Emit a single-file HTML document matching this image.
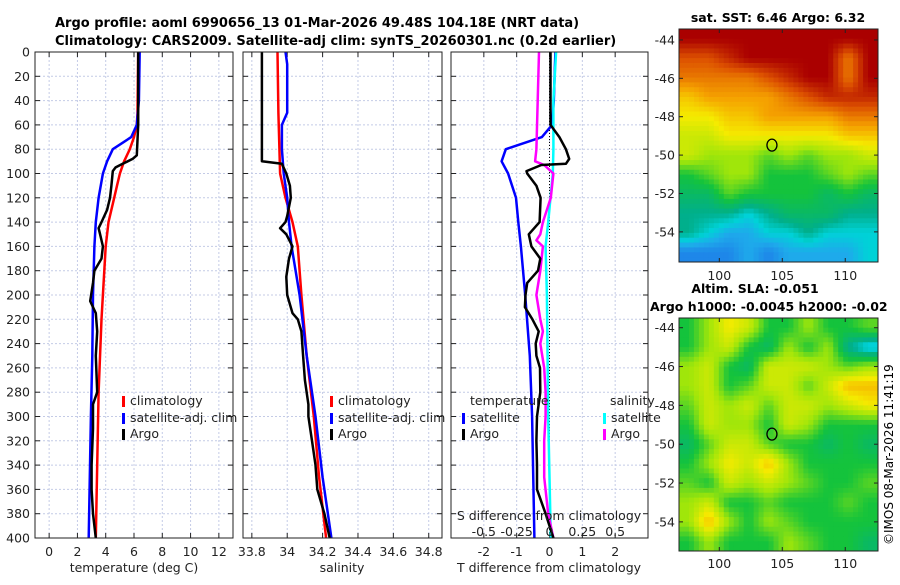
<!DOCTYPE html>
<html><head><meta charset="utf-8">
<style>
body{margin:0;background:#fff;}
svg{font-family:"DejaVu Sans","Liberation Sans",sans-serif;}
</style></head>
<body>
<svg id="fig" width="900" height="580" viewBox="0 0 900 580" xmlns="http://www.w3.org/2000/svg">
<rect width="900" height="580" fill="#fff"/>
<text x="55" y="27" font-size="13" font-weight="bold">Argo profile: aoml 6990656_13 01-Mar-2026 49.48S 104.18E (NRT data)</text>
<text x="55" y="45" font-size="13" font-weight="bold">Climatology: CARS2009. Satellite-adj clim: synTS_20260301.nc (0.2d earlier)</text>
<text x="778" y="22" font-size="12.5" font-weight="bold" text-anchor="middle">sat. SST: 6.46 Argo: 6.32</text>
<text x="755" y="293" font-size="12.5" font-weight="bold" text-anchor="middle">Altim. SLA: -0.051</text>
<text x="650" y="311" font-size="12.5" font-weight="bold">Argo h1000: -0.0045 h2000: -0.02</text>
<g id="plots"></g>
<text transform="translate(893,545) rotate(-90)" font-size="12">©IMOS 08-Mar-2026 11:41:19</text>
</svg>
<script>
// ---- data ----
const depths = [0,20,40,50,60,70,80,85,88,90,92,95,98,100,110,120,130,135,140,145,150,155,160,170,180,185,190,200,205,210,215,220,230,240,250,260,270,280,290,300,310,320,340,350,360,380,400];
const tClimDepth = [0,50,60,70,80,90,100,110,120,140,160,180,220,280,340,400];
const tClim = [6.3,6.25,6.2,6.0,5.7,5.3,5.0,4.8,4.6,4.2,4.0,3.9,3.7,3.5,3.4,3.3];
const tSatDepth = [0,40,60,70,80,90,100,120,140,160,200,250,300,400];
const tSat = [6.4,6.35,6.2,5.8,4.5,4.1,3.8,3.5,3.3,3.2,3.1,3.05,2.95,2.8];
const tArgoDepth = [0,60,85,88,92,95,98,110,120,130,140,145,150,160,170,180,190,205,215,230,250,280,290,310,340,360,380,400];
const tArgo = [6.3,6.3,6.2,5.9,5.2,4.7,4.5,4.4,4.3,4.1,3.7,3.5,3.6,3.8,3.7,3.2,3.1,2.9,3.3,3.4,3.3,3.4,3.1,3.1,3.0,3.0,3.1,3.3];
const sClimDepth = [0,50,100,120,140,160,200,250,300,350,400];
const sClim = [33.945,33.95,33.96,33.99,34.03,34.06,34.08,34.11,34.15,34.18,34.22];
const sSatDepth = [0,10,30,50,60,80,100,120,140,160,200,250,300,350,400];
const sSat = [33.99,34.0,34.0,34.0,33.97,33.97,33.98,34.0,34.01,34.025,34.07,34.11,34.16,34.2,34.25];
const sArgoDepth = [0,90,92,100,110,120,135,140,145,150,160,170,185,200,215,220,230,250,270,290,300,320,340,360,380,400];
const sArgo = [33.857,33.857,33.97,33.995,34.015,34.02,34.0,33.99,33.96,33.995,34.03,34.01,33.995,34.0,34.03,34.06,34.08,34.09,34.1,34.12,34.12,34.14,34.16,34.17,34.21,34.24];
const dTSatDepth = [0,40,60,70,80,90,100,120,140,160,200,250,300,400];
const dTSat = [0.18,0.13,0.08,-0.23,-1.33,-1.46,-1.26,-1.02,-0.95,-0.87,-0.74,-0.6,-0.53,-0.46];
const dTArgoDepth = [0,60,70,80,88,92,93,98,100,110,120,140,150,160,170,180,190,200,210,220,230,240,250,260,280,300,320,340,360,380,400];
const dTArgo = [0.03,0.03,0.3,0.5,0.6,0.5,-0.25,-0.7,-0.68,-0.4,-0.27,-0.3,-0.63,-0.55,-0.28,-0.35,-0.68,-0.73,-0.75,-0.52,-0.33,-0.42,-0.4,-0.29,-0.28,-0.38,-0.4,-0.38,-0.38,-0.12,0.12];
const dSArgoDepth = [0,80,90,93,100,120,140,150,155,160,180,200,220,230,240,260,280,300,320,350,380,400];
const dSArgo = [-0.08,-0.1,-0.11,-0.04,0.03,0.01,-0.05,-0.07,-0.1,-0.05,-0.07,-0.1,-0.07,-0.05,-0.07,-0.04,-0.03,-0.03,-0.04,-0.04,-0.01,0.03];
const dSSatDepth = [0,40,80,100,140,160,200,300,400];
const dSSat = [0.05,0.03,0.03,0.025,-0.01,-0.03,-0.02,-0.01,0.01];
const depthTicks = [0,20,40,60,80,100,120,140,160,180,200,220,240,260,280,300,320,340,360,380,400];
const tTicks = [0,2,4,6,8,10,12];
const sTicks = [33.8,34,34.2,34.4,34.6,34.8];
const sTickLabels = ["33.8","34","34.2","34.4","34.6","34.8"];
const dTTicks = [-2,-1,0,1,2];
const dSTicks = [-0.5,-0.25,0,0.25,0.5];
const dSTickLabels = ["-0.5","-0.25","0","0.25","0.5"];
const lonTicks = [100,105,110];
const sstLatTicks = [-44,-46,-48,-50,-52,-54];
const argoLon = 104.18, argoLat = -49.48;
// colour index 0..10, rows north->south
const sstGrid = [
[10,10,10,10,10,10,10,10,10,10],
[9,9,9.5,10,10,10,10,10,8.5,10],
[8.5,8.5,8.5,8.5,9,9.5,10,10,8.5,10],
[7.5,8,8,8,8,8.5,9,9.5,9.5,9.5],
[7,7,7.5,7.5,8,8,8,8,8.5,8.5],
[6.5,6.5,7,7,7,7,7,7,7.5,7.5],
[6.5,6,6,6,5.5,6,5.5,6,6,6.5],
[5,5.5,6,6,5,5,5,5.5,6,5.5],
[4.5,4.5,5.5,5,5,5,5,4.5,5,4.5],
[4,4,4,3.5,4,4.5,4.5,4.5,4,4],
[4,3.5,3,3,3.5,3.5,4,3.5,3.5,3.5],
[2.5,2.5,2.5,3,2.5,3,3,3,3,3.5]];
const slaGrid = [
[5,6,7,6.5,5,5,6,5,5,5.5],
[5,6,6.5,5,4.5,6,5,6,4,3.2],
[6,6.5,5,4.5,6.5,6.5,6.5,6,5.5,6],
[6,6.5,5,5.5,6.5,6.5,5.5,6.5,7.6,7.6],
[5.5,6.5,6,6.5,5.5,6.5,6.5,6,6.5,7],
[5,6.5,6,6,5,6.5,6,5,5,5],
[4.5,5.5,6.5,6.5,5.5,5,5,4.5,5,4.5],
[5,6,7,6.5,7.5,6,5,5,5,5],
[5.5,5,6.5,6,6.5,6,5.5,5,5,5.5],
[6,6.5,5,5,5.5,5,5,5,5.5,5],
[6,7.6,6,5,6,5.5,5,5,5,5],
[5,6,5,5,5,6,5.5,5,5,4.5]];

// ---- drawing ----
const NS="http://www.w3.org/2000/svg";
const root=document.getElementById('plots');
function el(tag,attrs,parent){const e=document.createElementNS(NS,tag);for(const k in attrs)e.setAttribute(k,attrs[k]);(parent||root).appendChild(e);return e;}
const Y0=52,Y1=538;
const yD=d=>Y0+(Y1-Y0)*d/400;
function lin(d0,d1,r0,r1){return v=>r0+(v-d0)*(r1-r0)/(d1-d0);}
const xT=lin(-1,13,35,233), xS=lin(33.75,34.875,243,442), xDT=lin(-3,3,451,648), xDS=lin(-0.75,0.75,451,648);

function panel(name,x0,x1,xticks,xf,xlabels,yLabels){
  const g=el('g',{});
  
  
  xticks.forEach(t=>{const l=el('line',{x1:xf(t),x2:xf(t),y1:Y0,y2:Y1,stroke:'#c4cbe6','stroke-dasharray':'2,2','stroke-width':1},g);});
  depthTicks.forEach(d=>{const l=el('line',{x1:x0,x2:x1,y1:yD(d),y2:yD(d),stroke:'#c4cbe6','stroke-dasharray':'2,2','stroke-width':1},g);
    el('line',{x1:x0,x2:x0+5,y1:yD(d),y2:yD(d),stroke:'#222'},g);el('line',{x1:x1-5,x2:x1,y1:yD(d),y2:yD(d),stroke:'#222'},g);
    if(yLabels){const t=el('text',{x:x0-5,y:yD(d)+4.5,'font-size':12.5,'text-anchor':'end',fill:'#222'},g);t.textContent=d;}
  });
  xticks.forEach((t,i)=>{el('line',{x1:xf(t),x2:xf(t),y1:Y1,y2:Y1-5,stroke:'#222'},g);el('line',{x1:xf(t),x2:xf(t),y1:Y0,y2:Y0+5,stroke:'#222'},g);
    if(xlabels){const tx=el('text',{x:xf(t),y:556,'font-size':12.5,'text-anchor':'middle',fill:'#222'},g);tx.textContent=xlabels[i];}
  });
  return g;
}
function line(g,name,xs,ds,xf,color,w,dash){
  const p=xs.map((v,i)=>xf(v).toFixed(1)+','+yD(ds[i]).toFixed(1)).join(' ');
  const l=el('polyline',{points:p,fill:'none',stroke:color,'stroke-width':w,'stroke-linejoin':'round'},g);
  if(dash)l.setAttribute('stroke-dasharray',dash);
  
  
}
function frame(g,x0,x1){const r=el('rect',{x:x0,y:Y0,width:x1-x0,height:Y1-Y0,fill:'none',stroke:'#222','stroke-width':1},g);}
function txt(g,name,x,y,s,size,anchor){const t=el('text',{x:x,y:y,'font-size':size||12.5,'text-anchor':anchor||'start',fill:'#222'},g);t.textContent=s;return t;}
function legendItem(g,name,x,y,color,label){const r=el('rect',{x:x,y:y-9,width:3,height:11,fill:color},g);txt(g,name,x+8,y,label,12.5);}

let g=panel('temperature-panel',35,233,tTicks,xT,tTicks.map(String),true);
line(g,'temp-climatology-line',tClim,tClimDepth,xT,'#f00',2.5);
line(g,'temp-satellite-line',tSat,tSatDepth,xT,'#00f',2.5);
line(g,'temp-argo-line',tArgo,tArgoDepth,xT,'#000',2.5);
frame(g,35,233);
txt(g,'temp-x-axis-title',134,572,'temperature (deg C)',12.5,'middle');
legendItem(g,'legend-climatology',122,405,'#f00','climatology');
legendItem(g,'legend-satellite',122,422,'#00f','satellite-adj. clim');
legendItem(g,'legend-argo',122,438,'#000','Argo');

g=panel('salinity-panel',243,442,sTicks,xS,sTickLabels,false);
line(g,'sal-climatology-line',sClim,sClimDepth,xS,'#f00',2.5);
line(g,'sal-satellite-line',sSat,sSatDepth,xS,'#00f',2.5);
line(g,'sal-argo-line',sArgo,sArgoDepth,xS,'#000',2.5);
frame(g,243,442);
txt(g,'salinity-x-axis-title',342,572,'salinity',12.5,'middle');
legendItem(g,'legend-climatology-s',330,405,'#f00','climatology');
legendItem(g,'legend-satellite-s',330,422,'#00f','satellite-adj. clim');
legendItem(g,'legend-argo-s',330,438,'#000','Argo');

g=panel('difference-panel',451,648,dTTicks,xDT,dTTicks.map(String),false);
el('line',{x1:xDT(0),x2:xDT(0),y1:Y0,y2:Y1,stroke:'#000','stroke-dasharray':'1,2','stroke-width':1},g);
line(g,'dT-satellite-line',dTSat,dTSatDepth,xDT,'#00f',2.5);
line(g,'dS-satellite-line',dSSat,dSSatDepth,xDS,'#0ff',2.5);
line(g,'dS-argo-line',dSArgo,dSArgoDepth,xDS,'#f0f',2.5);
line(g,'dT-argo-line',dTArgo,dTArgoDepth,xDT,'#000',2.5);
frame(g,451,648);
txt(g,'dT-x-axis-title',549,572,'T difference from climatology',12.5,'middle');
txt(g,'dS-axis-title',549,520,'S difference from climatology',12.5,'middle');
dSTicks.forEach((t,i)=>txt(g,'dS-tick-label',xDS(t),536,dSTickLabels[i],12.5,'middle'));
txt(g,'legend-temperature-heading',470,405,'temperature');
legendItem(g,'legend-dT-satellite',462,422,'#00f','satellite');
legendItem(g,'legend-dT-argo',462,438,'#000','Argo');
txt(g,'legend-salinity-heading',610,405,'salinity');
legendItem(g,'legend-dS-satellite',603,422,'#0ff','satellite');
legendItem(g,'legend-dS-argo',603,438,'#f0f','Argo');

// colour palette (index -> rgb)
const palIdx=[0,2,3,3.5,4,5,6,7,8,9,10];
const palRGB=[[0,0,160],[30,100,230],[30,170,235],[0,210,215],[0,175,140],[20,195,60],[160,230,10],[245,235,0],[245,160,0],[220,80,0],[170,0,0]];
function cmap(v){v=Math.max(0,Math.min(10,v));let k=0;while(k<palIdx.length-2&&v>palIdx[k+1])k++;
  const f=(v-palIdx[k])/(palIdx[k+1]-palIdx[k]);const a=palRGB[k],b=palRGB[k+1];
  return 'rgb('+a.map((c,i)=>Math.round(c+(b[i]-c)*f)).join(',')+')';}
function sample(grid,fy,fx){const R=grid.length,C=grid[0].length;
  const y=Math.max(0,Math.min(R-1,fy*R-0.5)),x=Math.max(0,Math.min(C-1,fx*C-0.5));
  const i=Math.floor(y),j=Math.floor(x),i2=Math.min(R-1,i+1),j2=Math.min(C-1,j+1),dy=y-i,dx=x-j;
  return grid[i][j]*(1-dy)*(1-dx)+grid[i][j2]*(1-dy)*dx+grid[i2][j]*dy*(1-dx)+grid[i2][j2]*dy*dx;}
function map(name,grid,mx0,mx1,my0,my1,latTop,latBot,latTicks,lonLabelY){
  const g=el('g',{});
  
  
  const xl=lin(96.8,112.6,mx0,mx1), yl=lin(latTop,latBot,my0,my1);
  const NR=48,NC=40,cw=(mx1-mx0)/NC,ch=(my1-my0)/NR;
  for(let i=0;i<NR;i++)for(let j=0;j<NC;j++){
    const c=el('rect',{x:(mx0+j*cw).toFixed(2),y:(my0+i*ch).toFixed(2),width:(cw+0.5).toFixed(2),height:(ch+0.5).toFixed(2),fill:cmap(sample(grid,(i+0.5)/NR,(j+0.5)/NC))},g);
    
    
  }
  const f=el('rect',{x:mx0,y:my0,width:mx1-mx0,height:my1-my0,fill:'none',stroke:'#222'},g);
  latTicks.forEach(l=>{el('line',{x1:mx1,x2:mx1-4,y1:yl(l),y2:yl(l),stroke:'#222'},g);el('line',{x1:mx0,x2:mx0+4,y1:yl(l),y2:yl(l),stroke:'#222'},g);txt(g,'lat-tick-label',mx0-4,yl(l)+4.5,String(l),12.5,'end');});
  lonTicks.forEach(l=>{el('line',{x1:xl(l),x2:xl(l),y1:my1,y2:my1-4,stroke:'#222'},g);el('line',{x1:xl(l),x2:xl(l),y1:my0,y2:my0+4,stroke:'#222'},g);txt(g,'lon-tick-label',xl(l),lonLabelY,String(l),12.5,'middle');});
  const c=el('ellipse',{cx:xl(argoLon),cy:yl(argoLat),rx:5,ry:6,fill:'none',stroke:'#000','stroke-width':1.3},g);
  
  
}
map('sst-map',sstGrid,679,878,29,262,-43.43,-55.57,sstLatTicks,280);
map('sla-map',slaGrid,679,878,318,551,-43.5,-55.5,sstLatTicks,568);
</script>
</body></html>
